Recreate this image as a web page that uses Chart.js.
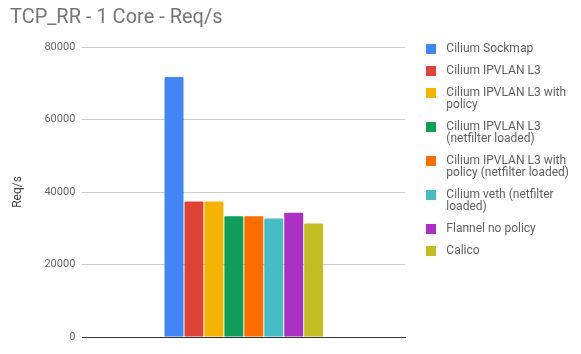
<!DOCTYPE html>
<html>
<head>
<meta charset="utf-8">
<script src="https://cdn.jsdelivr.net/npm/chart.js@4"></script>
<style>
  body { margin: 0; background: #fff; }
  #wrap { width: 581px; height: 354px; }
</style>
</head>
<body>
<div id="wrap"><canvas id="my-chart"></canvas></div>
<script>
// chart data
const seriesNames = [
  'Cilium Sockmap',
  'Cilium IPVLAN L3',
  ['Cilium IPVLAN L3 with', 'policy'],
  ['Cilium IPVLAN L3', '(netfilter loaded)'],
  ['Cilium IPVLAN L3 with', 'policy (netfilter loaded)'],
  ['Cilium veth (netfilter', 'loaded)'],
  'Flannel no policy',
  'Calico'
]
const reqPerSec = [71700, 37400, 37400, 33300, 33300, 32700, 34300, 31300]
const barColors = ['#4285f4', '#db4437', '#f4b400', '#0f9d58', '#ff6d00', '#46bdc6', '#ab30c4', '#c2bd22']
const yTicks = [0, 20000, 40000, 60000, 80000]

const datasets = seriesNames.map((name, i) => ({
  label: name,
  data: [reqPerSec[i]],
  backgroundColor: barColors[i],
  borderWidth: 0,
  borderRadius: 1,
  categoryPercentage: 0.494,
  barPercentage: 0.95
}))

// small square swatch for the legend
function swatch(color) {
  const c = document.createElement('canvas')
  c.width = 10
  c.height = 10
  const ctx = c.getContext('2d')
  ctx.fillStyle = color
  ctx.fillRect(0, 0, 10, 10)
  return c
}

const chartCanva = document.getElementById('my-chart')

const myChart = new Chart(chartCanva, {
  type: 'bar',
  data: {
    labels: [''],
    datasets: datasets
  },
  options: {
    responsive: true,
    maintainAspectRatio: false,
    animation: false,
    layout: {
      padding: { left: 10, right: 2, top: 0, bottom: 9 }
    },
    plugins: {
      title: {
        display: true,
        text: 'TCP_RR - 1 Core - Req/s',
        align: 'start',
        color: '#757575',
        font: { family: 'Roboto', size: 20, weight: 'normal' },
        padding: { top: 6, bottom: 17 }
      },
      legend: {
        position: 'right',
        align: 'start',
        fullSize: true,
        maxWidth: 180,
        // spacer so the first item lines up with the top gridline
        title: { display: true, text: '', padding: 0, font: { size: 33, lineHeight: 1 } },
        labels: {
          usePointStyle: true,
          pointStyleWidth: 18,
          padding: 10,
          color: '#5f5f5f',
          font: { family: 'Roboto', size: 12, lineHeight: 1 },
          generateLabels: (chart) => {
            const items = Chart.defaults.plugins.legend.labels.generateLabels(chart)
            items.forEach((item, i) => {
              item.pointStyle = swatch(barColors[i])
              item.lineWidth = 0
            })
            return items
          }
        }
      },
      tooltip: { enabled: false }
    },
    scales: {
      x: {
        grid: { display: false },
        ticks: { display: false },
        border: { display: true, color: '#333', width: 1 }
      },
      y: {
        min: 0,
        max: 80000,
        afterBuildTicks: (scale) => {
          scale.ticks = yTicks.map(v => ({ value: v }))
        },
        grid: { color: '#cccccc', drawTicks: false },
        border: { display: false },
        ticks: {
          padding: 7,
          color: '#666',
          font: { family: 'Roboto', size: 11 },
          callback: (v) => String(v)
        },
        title: {
          display: true,
          text: 'Req/s',
          color: '#444',
          font: { family: 'Roboto', size: 12 },
          padding: { top: 1, bottom: 12 }
        }
      },
      // empty axis, only keeps a gap between plot and legend
      gap: {
        position: 'right',
        display: true,
        grid: { display: false },
        border: { display: false },
        ticks: { display: false },
        afterFit: (scale) => { scale.width = 7 }
      }
    }
  }
});
</script>
</body>
</html>
